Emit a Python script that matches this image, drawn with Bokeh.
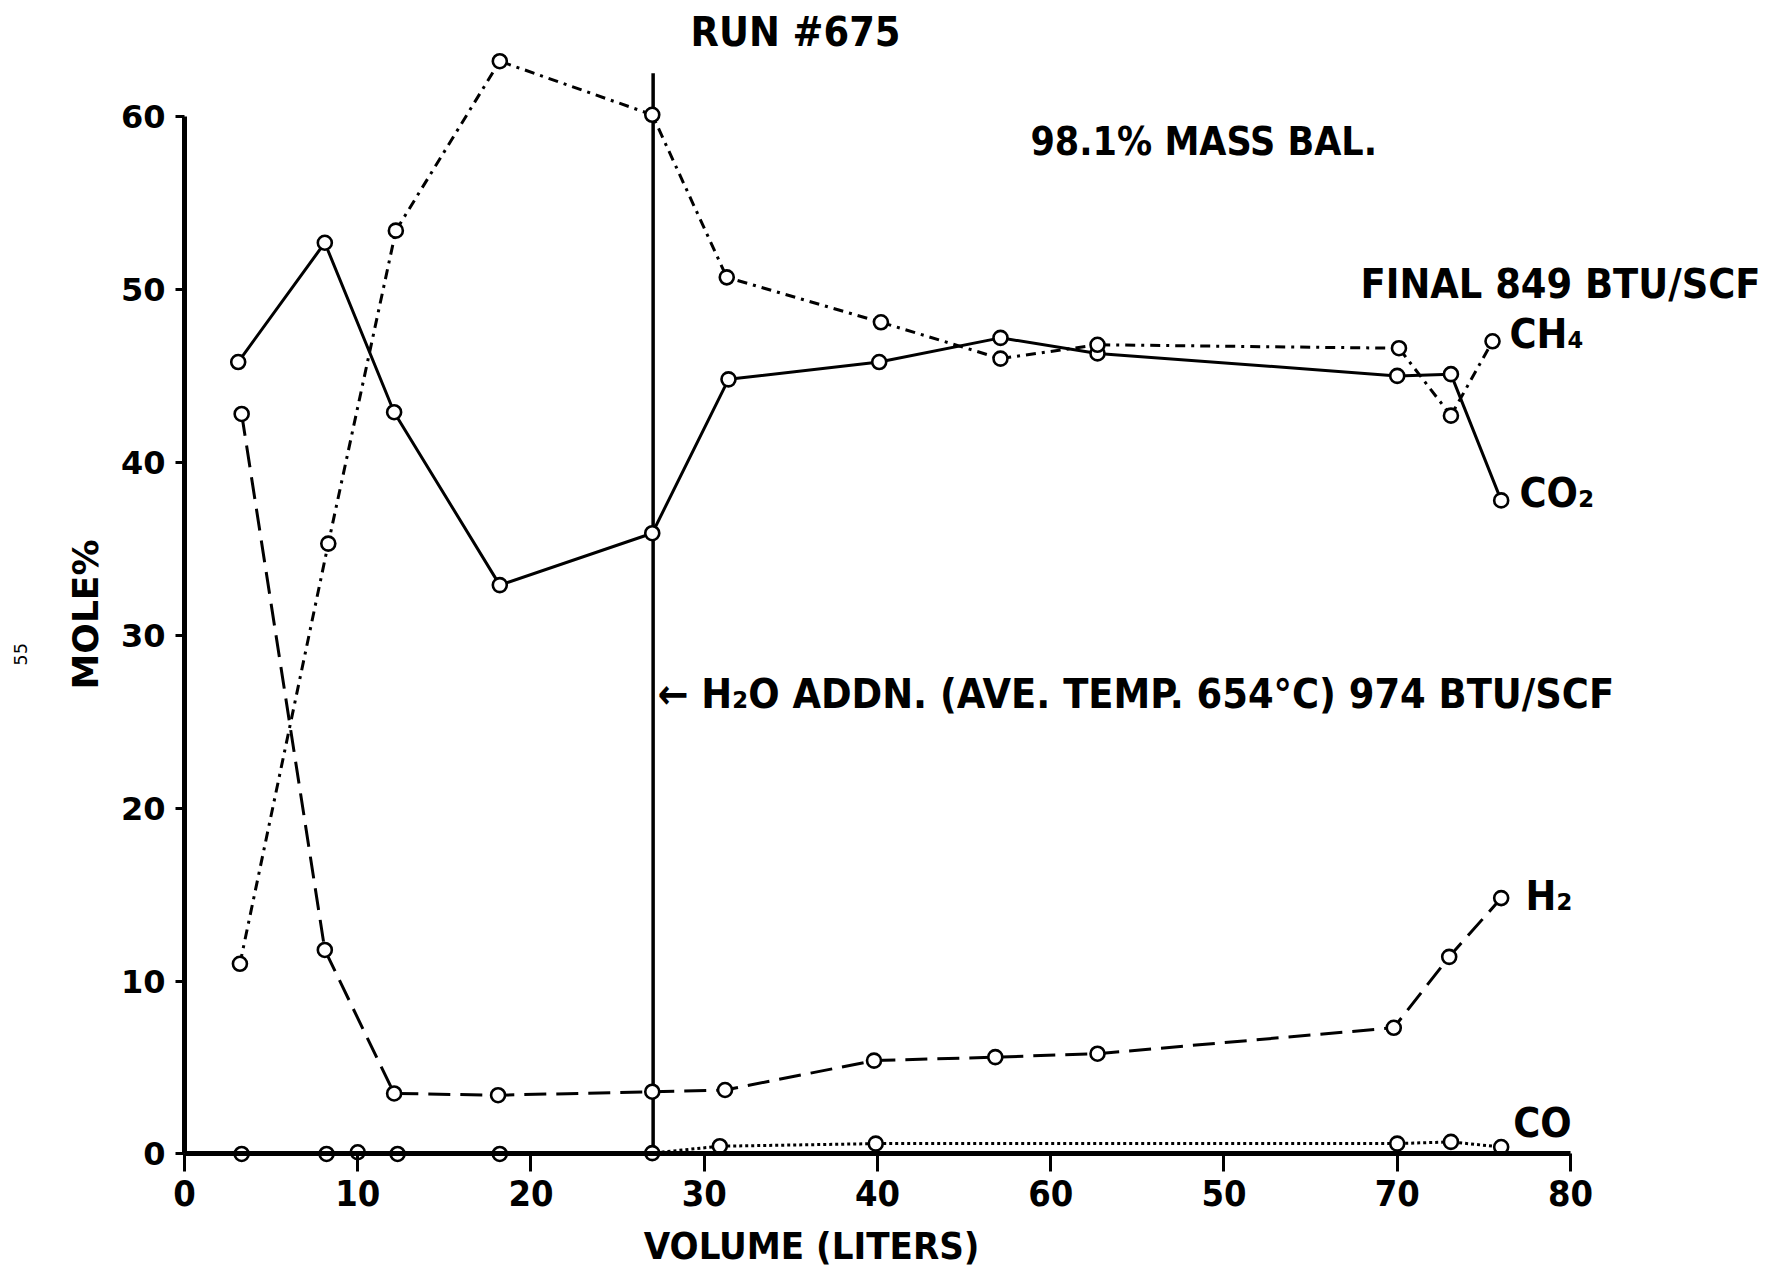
import math
from bokeh.plotting import figure
from bokeh.models import Range1d, FixedTicker
from bokeh.core.properties import value
from bokeh.embed import file_html
from bokeh.resources import INLINE

# ---- data ----
ch4_x = [3.2, 8.3, 12.2, 18.2, 27.0, 31.3, 40.2, 47.1, 52.7, 70.1, 73.1, 75.5]
ch4_y = [11.0, 35.3, 53.4, 63.2, 60.1, 50.7, 48.1, 46.0, 46.8, 46.6, 42.7, 47.0]

co2_x = [3.1, 8.1, 12.1, 18.2, 27.0, 31.4, 40.1, 47.1, 52.7, 70.0, 73.1, 76.0]
co2_y = [45.8, 52.7, 42.9, 32.9, 35.9, 44.8, 45.8, 47.2, 46.3, 45.0, 45.1, 37.8]

h2_x = [3.3, 8.1, 12.1, 18.1, 27.0, 31.2, 39.8, 46.8, 52.7, 69.8, 73.0, 76.0]
h2_y = [42.8, 11.8, 3.5, 3.4, 3.6, 3.7, 5.4, 5.6, 5.8, 7.3, 11.4, 14.8]

co_x = [3.3, 8.2, 10.0, 12.3, 18.2, 27.0, 30.9, 39.9, 70.0, 73.1, 76.0]
co_y = [0.0, 0.0, 0.1, 0.0, 0.0, 0.05, 0.45, 0.6, 0.6, 0.7, 0.4]

h2o_addn_x = [27.05]
h2o_addn_top = [62.5]

x_ticks = [0, 10, 20, 30, 40, 50, 60, 70, 80]
x_tick_labels = ["0", "10", "20", "30", "40", "60", "50", "70", "80"]
y_ticks = [0, 10, 20, 30, 40, 50, 60]

# ---- figure ----
W, H = 1768, 1274
p = figure(width=W, height=H, output_backend="svg", toolbar_location=None,
           x_range=Range1d(-10.62, 91.43), y_range=Range1d(-6.97, 66.71),
           min_border=0, min_border_left=0, min_border_right=0,
           min_border_top=0, min_border_bottom=0)
p.outline_line_color = None
p.grid.visible = False
p.background_fill_color = "white"
p.border_fill_color = "white"

xa = p.xaxis[0]
xa.fixed_location = 0
xa.bounds = (0, 80)
xa.ticker = FixedTicker(ticks=x_ticks)
xa.major_label_overrides = {t: l for t, l in zip(x_ticks, x_tick_labels)}
xa.axis_line_width = 5
xa.axis_line_color = "black"
xa.major_tick_out = 18
xa.major_tick_in = 0
xa.major_tick_line_width = 3
xa.minor_tick_line_color = None
xa.major_label_text_font = "DejaVu Sans Condensed"
xa.major_label_text_font_style = "bold"
xa.major_label_text_font_size = "36px"
xa.major_label_text_color = "black"
xa.major_label_standoff = 8

ya = p.yaxis[0]
ya.fixed_location = 0
ya.bounds = (0, 60)
ya.ticker = FixedTicker(ticks=y_ticks)
ya.axis_line_width = 5
ya.axis_line_color = "black"
ya.major_tick_out = 9
ya.major_tick_in = 0
ya.major_tick_line_width = 3
ya.minor_tick_line_color = None
ya.major_label_text_font = "DejaVu Sans"
ya.major_label_text_font_style = "bold"
ya.major_label_text_font_size = "32px"
ya.major_label_text_color = "black"
ya.major_label_standoff = 10

# ---- series ----
lw = 3
p.line(co2_x, co2_y, line_color="black", line_width=lw)
p.line(ch4_x, ch4_y, line_color="black", line_width=lw, line_dash="10 6 3 6")
p.line(h2_x, h2_y, line_color="black", line_width=lw, line_dash="22 10")
p.line(co_x, co_y, line_color="black", line_width=lw, line_dash="3 3")
p.segment(x0=h2o_addn_x, y0=[0], x1=h2o_addn_x, y1=h2o_addn_top,
          line_color="black", line_width=3.5)

for xs, ys in [(co2_x, co2_y), (ch4_x, ch4_y), (h2_x, h2_y), (co_x, co_y)]:
    p.scatter(xs, ys, marker="circle", size=14, fill_color="white",
              line_color="black", line_width=2.6)

# ---- annotations & axis titles ----
font = value("DejaVu Sans Condensed")
p.text(x=[35.27], y=[64.86], text=["RUN #675"], text_font=font,
       text_font_style="bold", text_font_size="41px", text_align="center",
       text_baseline="middle", text_color="black")
p.text(x=[48.83], y=[58.56], text=["98.1% MASS BAL."], text_font=font,
       text_font_style="bold", text_font_size="39px", text_align="left",
       text_baseline="middle", text_color="black")
p.text(x=[67.88], y=[50.29], text=["FINAL 849 BTU/SCF"], text_font=font,
       text_font_style="bold", text_font_size="41px", text_align="left",
       text_baseline="middle", text_color="black")
p.text(x=[76.48, 77.06, 77.4, 76.7], y=[47.4, 38.2, 14.9, 1.8],
       text=["CH\u2084", "CO\u2082", "H\u2082", "CO"], text_font=font,
       text_font_style="bold", text_font_size="41px", text_align="left",
       text_baseline="middle", text_color="black")
p.text(x=[27.3], y=[26.6],
       text=["\u2190 H\u2082O ADDN. (AVE. TEMP. 654\u00b0C) 974 BTU/SCF"],
       text_font=font, text_font_style="bold", text_font_size="41px",
       text_align="left", text_baseline="middle", text_color="black")
# axis titles, placed where the reference has them
p.text(x=[36.2], y=[-5.35], text=["VOLUME (LITERS)"], text_font=font,
       text_font_style="bold", text_font_size="38px", text_align="center",
       text_baseline="middle", text_color="black")
p.text(x=[-5.7], y=[31.2], text=["MOLE%"], angle=math.pi / 2,
       text_font=value("DejaVu Sans"), text_font_style="bold",
       text_font_size="36px", text_align="center", text_baseline="middle",
       text_color="black")
p.text(x=[-9.47], y=[28.9], text=["55"], angle=math.pi / 2,
       text_font=value("DejaVu Sans"), text_font_size="18px",
       text_align="center", text_baseline="middle", text_color="black")

open("out.html", "w").write(file_html(p, INLINE))
